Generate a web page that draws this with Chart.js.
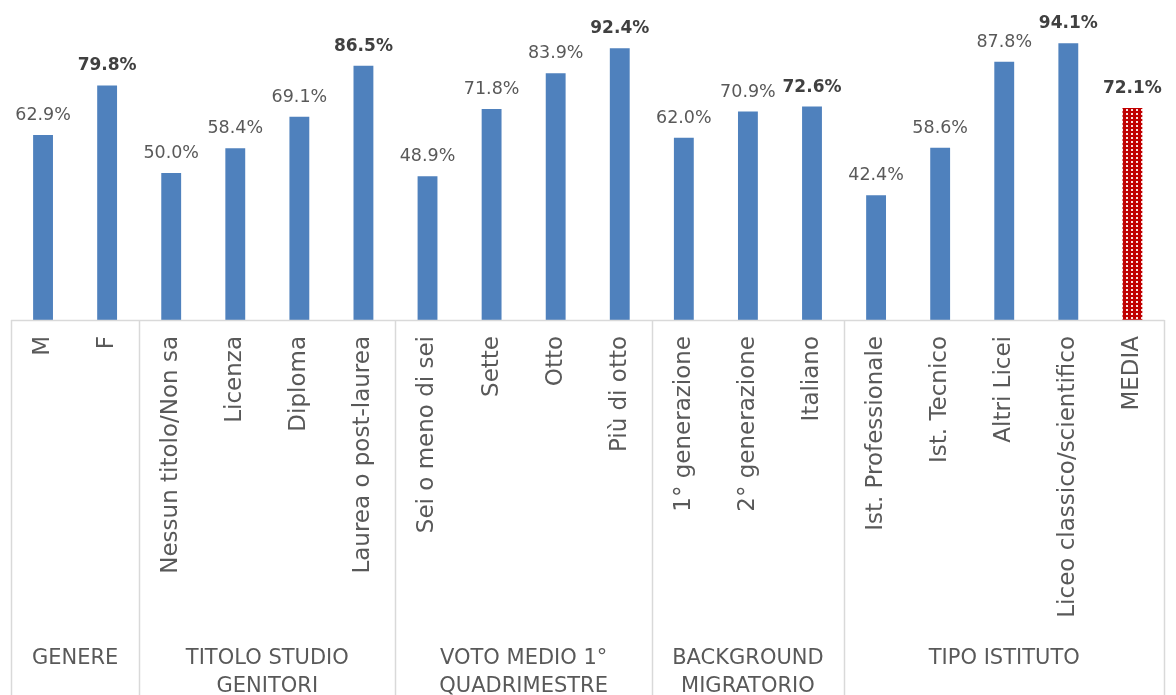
<!DOCTYPE html>
<html><head><meta charset="utf-8">
<script src="https://cdn.jsdelivr.net/npm/chart.js@4.4.1/dist/chart.umd.min.js"></script>
<style>html,body{margin:0;padding:0;background:#fff}canvas{display:block}</style>
</head><body>
<canvas id="c" width="1176" height="695"></canvas>
<script>
const categories = ["M","F","Nessun titolo/Non sa","Licenza","Diploma","Laurea o post-laurea","Sei o meno di sei","Sette","Otto","Più di otto","1° generazione","2° generazione","Italiano","Ist. Professionale","Ist. Tecnico","Altri Licei","Liceo classico/scientifico","MEDIA"];
const values = [62.9,79.8,50.0,58.4,69.1,86.5,48.9,71.8,83.9,92.4,62.0,70.9,72.6,42.4,58.6,87.8,94.1,72.1];
const boldLabels = [false,true,false,false,false,true,false,false,false,true,false,false,true,false,false,false,true,true];
const groupNames = [["GENERE"],["TITOLO STUDIO","GENITORI"],["VOTO MEDIO 1°","QUADRIMESTRE"],["BACKGROUND","MIGRATORIO"],["TIPO ISTITUTO"]];
const groupSizes = [2,4,4,3,5];
const highlightIndex = 17;

const FONT = "'DejaVu Sans', sans-serif";

function makePattern(){
  const p = document.createElement('canvas');
  p.width = 5; p.height = 4;
  const g = p.getContext('2d');
  g.fillStyle = '#c00000'; g.fillRect(0,0,5,4);
  g.fillStyle = '#f8e0e0'; g.fillRect(1,1,2,2);
  return g.createPattern(p,'repeat');
}
const pattern = makePattern();

const overlay = {
  id:'overlay',
  afterDraw(chart){
    const ctx = chart.ctx, xs = chart.scales.x, area = chart.chartArea;
    const half = (xs.getPixelForValue(1)-xs.getPixelForValue(0))/2;
    const bottom = chart.height;
    ctx.save();
    ctx.strokeStyle = '#d9d9d9'; ctx.lineWidth = 1.5;
    ctx.beginPath(); ctx.moveTo(area.left, area.bottom+0.5); ctx.lineTo(area.right, area.bottom+0.5); ctx.stroke();
    let idx = 0;
    const bounds = [xs.getPixelForValue(0)-half];
    groupSizes.forEach(s=>{ idx += s; bounds.push(xs.getPixelForValue(idx-1)+half); });
    bounds.forEach(b=>{
      const x = Math.min(Math.round(b)+0.5, chart.width-1);
      ctx.beginPath(); ctx.moveTo(x, area.bottom); ctx.lineTo(x, bottom); ctx.stroke();
    });
    // group labels
    ctx.fillStyle = '#595959';
    ctx.font = "21px " + FONT;
    ctx.textAlign = 'center'; ctx.textBaseline = 'middle';
    groupNames.forEach((lines,i)=>{
      const cx = (bounds[i]+bounds[i+1])/2;
      lines.forEach((t,j)=> ctx.fillText(t, cx, 659 + j*28));
    });
    // data labels
    const meta = chart.getDatasetMeta(0);
    meta.data.forEach((bar,i)=>{
      ctx.font = (boldLabels[i] ? "bold 17px " : "17.5px ") + FONT;
      ctx.fillStyle = boldLabels[i] ? '#404040' : '#595959';
      ctx.textBaseline = 'alphabetic';
      ctx.fillText(values[i].toFixed(1)+'%', bar.x, bar.y - 15);
    });
    ctx.restore();
  }
};

new Chart(document.getElementById('c'), {
  type:'bar',
  data:{
    labels: categories,
    datasets:[{
      data: values,
      backgroundColor: values.map((v,i)=> i===highlightIndex ? pattern : '#4f81bd'),
      barPercentage: 0.31,
      categoryPercentage: 1.0
    }]
  },
  options:{
    responsive:false,
    animation:false,
    layout:{padding:{left:11,right:0,top:26,bottom:0}},
    plugins:{legend:{display:false},tooltip:{enabled:false}},
    scales:{
      y:{display:false,min:0,max:100},
      x:{
        grid:{display:false,drawTicks:false},
        border:{display:false},
        ticks:{autoSkip:false,maxRotation:90,minRotation:90,padding:16,color:'#595959',font:{size:23,family:FONT}},
        afterFit(scale){ scale.height = 375; }
      }
    }
  },
  plugins:[overlay]
});
</script>
</body></html>
